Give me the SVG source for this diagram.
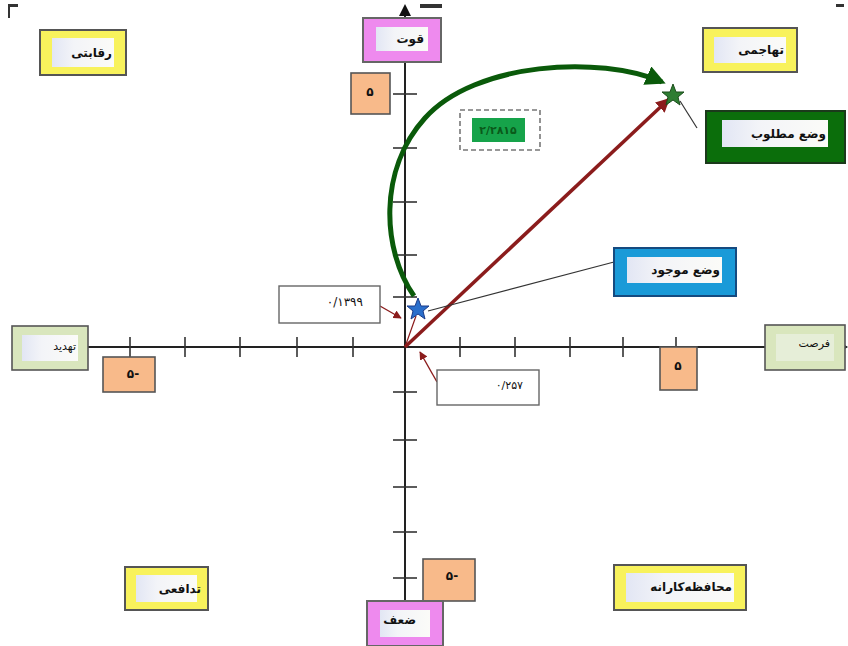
<svg xmlns="http://www.w3.org/2000/svg" width="848" height="646" viewBox="0 0 848 646">
<style>
text{font-family:"DejaVu Sans","Noto Sans",sans-serif;font-weight:bold;font-size:12px;fill:#111;text-anchor:end;dominant-baseline:central}
.c{text-anchor:middle}
.ax{stroke:#222;stroke-width:2;fill:none}
.tk{stroke:#333;stroke-width:1.6}
.yel{fill:#f8f25c;stroke:#555;stroke-width:2}
.pink{fill:#ee8aee;stroke:#666;stroke-width:2}
.lg{fill:#d9e6bd;stroke:#555;stroke-width:1.6}
.org{fill:#f8ba8a;stroke:#555;stroke-width:1.6}
.in{fill:url(#inner);stroke:none}
.wb{fill:#fff;stroke:#666;stroke-width:1.4}
.red{stroke:#8b1c1c;fill:none}
</style>
<defs>
<linearGradient id="inner" x1="0" y1="0" x2="1" y2="0"><stop offset="0" stop-color="#e2e6f4"/><stop offset="0.35" stop-color="#f3f4f8"/><stop offset="1" stop-color="#fbfbf8"/></linearGradient>
<marker id="ah" viewBox="0 0 10 10" refX="9" refY="5" markerWidth="4" markerHeight="4" orient="auto"><path d="M0,0L10,5L0,10z" fill="#8b1c1c"/></marker>
<marker id="ahs" viewBox="0 0 10 10" refX="9" refY="5" markerWidth="6" markerHeight="6" orient="auto"><path d="M0,0L10,5L0,10z" fill="#8b1c1c"/></marker>
<marker id="ag" viewBox="0 0 10 10" refX="8" refY="5" markerWidth="4" markerHeight="4" orient="auto"><path d="M0,0L10,5L0,10z" fill="#0a5a0a"/></marker>
</defs>
<rect width="848" height="646" fill="#fff"/>
<g id="corners" fill="#333">
<rect x="8" y="4" width="10" height="3"/><rect x="8" y="4" width="2" height="14"/>
<rect x="420" y="4" width="22" height="4"/>
<rect x="836" y="4" width="8" height="3"/>
<rect x="420" y="640" width="20" height="4"/>
</g>
<g id="axes">
<line class="ax" x1="405" y1="12" x2="405" y2="640"/>
<path d="M399,16L405,4L411,16z" fill="#111"/>
<line class="ax" x1="15" y1="347" x2="842" y2="347"/>
<path d="M838,341L848,347L838,353z" fill="#111"/>
<g class="tk">
<line x1="130" y1="337" x2="130" y2="357"/><line x1="185" y1="337" x2="185" y2="357"/><line x1="240" y1="337" x2="240" y2="357"/><line x1="297" y1="337" x2="297" y2="357"/><line x1="353" y1="337" x2="353" y2="357"/>
<line x1="460" y1="337" x2="460" y2="357"/><line x1="515" y1="337" x2="515" y2="357"/><line x1="570" y1="337" x2="570" y2="357"/><line x1="623" y1="337" x2="623" y2="357"/><line x1="676" y1="337" x2="676" y2="357"/>
<line x1="393" y1="94" x2="417" y2="94"/><line x1="393" y1="148" x2="417" y2="148"/><line x1="393" y1="202" x2="417" y2="202"/><line x1="393" y1="255" x2="417" y2="255"/><line x1="393" y1="297" x2="417" y2="297"/>
<line x1="393" y1="392" x2="417" y2="392"/><line x1="393" y1="440" x2="417" y2="440"/><line x1="393" y1="487" x2="417" y2="487"/><line x1="393" y1="532" x2="417" y2="532"/><line x1="393" y1="578" x2="417" y2="578"/>
</g>
</g>
<g id="connectors">
<path d="M414,296 C382,250 378,170 425,118 C475,62 600,55 662,82" stroke="#0a5a0a" stroke-width="5" fill="none" marker-end="url(#ag)"/>
<line class="red" x1="405" y1="347" x2="669" y2="99" stroke-width="3.5" marker-end="url(#ah)"/>
<line class="red" x1="405" y1="347" x2="416" y2="316" stroke-width="1.2"/>
<line x1="428" y1="311" x2="614" y2="262" stroke="#333" stroke-width="1.2"/>
<line x1="680" y1="101" x2="697" y2="128" stroke="#333" stroke-width="1.2"/>
<line class="red" x1="380" y1="306" x2="401" y2="318" stroke-width="1.4" marker-end="url(#ahs)"/>
<line class="red" x1="437" y1="382" x2="420" y2="352" stroke-width="1.4" marker-end="url(#ahs)"/>
</g>
<g id="star-current"><path d="M418,298 L421,306 L429,306 L423,311 L425,319 L418,314 L411,319 L413,311 L407,306 L415,306 z" fill="#2a6fcc" stroke="#1a3a88" stroke-width="1"/></g>
<g id="star-desired"><path d="M673,84 L676,92 L684,92 L678,97 L680,105 L673,100 L666,105 L668,97 L662,92 L670,92 z" fill="#2e7d32" stroke="#1b4d1b" stroke-width="1"/></g>
<g id="n-raghabati"><rect class="yel" x="40" y="30" width="86" height="45"/><rect class="in" x="52" y="38" width="62" height="29"/><text x="112" y="53">رقابتی</text></g>
<g id="n-ghovvat"><rect class="pink" x="363" y="18" width="78" height="44"/><rect class="in" x="376" y="27" width="52" height="24"/><text x="424" y="39">قوت</text></g>
<g id="n-five-top"><rect class="org" x="351" y="73" width="39" height="41"/><text class="c" x="370" y="92">۵</text></g>
<g id="n-tahajomi"><rect class="yel" x="703" y="28" width="94" height="44"/><rect class="in" x="714" y="37" width="72" height="26"/><text x="784" y="50">تهاجمی</text></g>
<g id="n-matloob"><rect x="706" y="111" width="139" height="52" fill="#0b6e0b" stroke="#1b3a1b" stroke-width="2"/><rect class="in" x="722" y="120" width="106" height="27"/><text x="826" y="134">وضع مطلوب</text></g>
<g id="n-value"><rect x="460" y="110" width="80" height="40" fill="#fff" stroke="#777" stroke-width="1.6" stroke-dasharray="5,3"/><rect x="472" y="118" width="53" height="24" fill="#16a34a"/><text class="c" x="498" y="130" style="fill:#0a5a1a;font-size:11px">۲/۲۸۱۵</text></g>
<g id="n-mojood"><rect x="614" y="248" width="122" height="48" fill="#1a9ad8" stroke="#154a80" stroke-width="2"/><rect class="in" x="627" y="257" width="95" height="26"/><text x="720" y="270">وضع موجود</text></g>
<g id="n-y-val"><rect class="wb" x="279" y="286" width="101" height="37"/><text x="363" y="302" style="font-weight:normal">۰/۱۳۹۹</text></g>
<g id="n-x-val"><rect class="wb" x="437" y="370" width="102" height="35"/><text x="523" y="385" style="font-weight:normal;font-size:11px">۰/۲۵۷</text></g>
<g id="n-tahdid"><rect class="lg" x="12" y="326" width="76" height="44"/><rect class="in" x="22" y="335" width="56" height="26"/><text x="76" y="346" style="font-weight:normal;font-size:11px">تهدید</text></g>
<g id="n-minus5-left"><rect class="org" x="103" y="357" width="52" height="35"/><text class="c" x="133" y="374">۵-</text></g>
<g id="n-forsat"><rect class="lg" x="765" y="325" width="80" height="45"/><rect x="776" y="334" width="58" height="27" fill="#e6eed8"/><text x="830" y="343" style="font-weight:normal;font-size:11px">فرصت</text></g>
<g id="n-five-right"><rect class="org" x="660" y="347" width="37" height="43"/><text class="c" x="678" y="366">۵</text></g>
<g id="n-tadafoee"><rect class="yel" x="125" y="567" width="83" height="43"/><rect class="in" x="136" y="575" width="61" height="27"/><text x="201" y="589">تدافعی</text></g>
<g id="n-minus5-bottom"><rect class="org" x="423" y="559" width="52" height="42"/><text class="c" x="452" y="576">۵-</text></g>
<g id="n-zaaf"><rect class="pink" x="367" y="601" width="76" height="45"/><rect class="in" x="380" y="610" width="50" height="27"/><text x="416" y="620">ضعف</text></g>
<g id="n-mohafezekarane"><rect class="yel" x="614" y="565" width="132" height="45"/><rect class="in" x="626" y="573" width="108" height="29"/><text x="732" y="587">محافظه‌کارانه</text></g>
</svg>
